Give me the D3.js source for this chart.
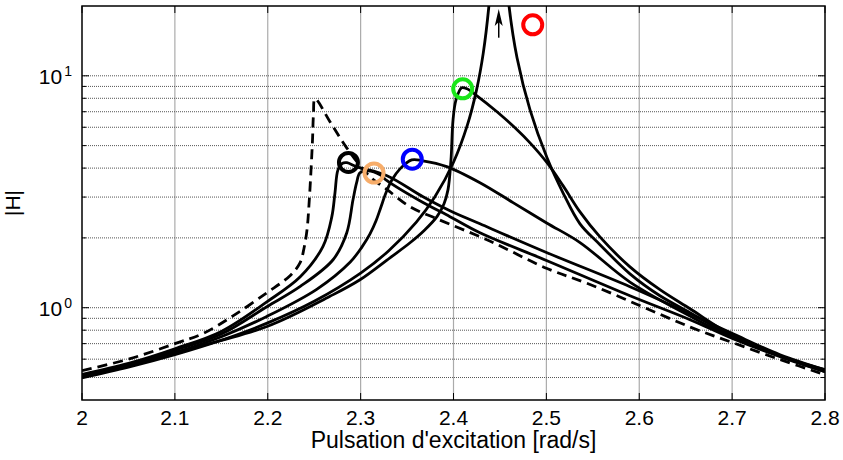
<!DOCTYPE html>
<html>
<head>
<meta charset="utf-8">
<script src="https://cdn.jsdelivr.net/npm/d3@7"></script>
<style>
  body { margin: 0; background: #fff; }
  svg text { font-family: "Liberation Sans", Arial, sans-serif; fill: #000; }
</style>
</head>
<body>
<div id="grafica"></div>
<script>
// ticks
var xTicks = [2, 2.1, 2.2, 2.3, 2.4, 2.5, 2.6, 2.7, 2.8];
var yMajor = [1, 10];
var yMinor = [0.5, 0.6, 0.7, 0.8, 0.9, 2, 3, 4, 5, 6, 7, 8, 9];

// dashed curve
var dashW = [2.0, 2.052, 2.1, 2.13, 2.163, 2.199, 2.224, 2.2347, 2.239, 2.2423, 2.2444, 2.2466, 2.2482, 2.2492, 2.2509, 2.267, 2.285, 2.31, 2.326, 2.353, 2.382, 2.439, 2.5, 2.547, 2.601, 2.655, 2.701, 2.752, 2.8];
var dashH = [0.535, 0.603, 0.70, 0.773, 0.924, 1.16, 1.374, 1.56, 1.80, 2.17, 2.78, 3.93, 5.3, 6.79, 7.96, 6.34, 4.89, 3.67, 3.29, 2.73, 2.42, 1.94, 1.48, 1.26, 1.02, 0.825, 0.706, 0.597, 0.514];

// black circle curve
var blackW = [2.0, 2.05, 2.1, 2.15, 2.199, 2.235, 2.2595, 2.269, 2.2724, 2.2756, 2.2805, 2.2853, 2.2961, 2.3284, 2.3672, 2.3962, 2.4285, 2.5007, 2.59, 2.6546, 2.701, 2.7516, 2.8];
var blackH = [0.515, 0.575, 0.665, 0.79, 1.06, 1.36, 1.84, 2.47, 3.13, 3.93, 4.2, 4.22, 4.05, 3.71, 3.01, 2.62, 2.30, 1.726, 1.232, 0.942, 0.772, 0.627, 0.54];

// orange circle curve
var orangeW = [2.0, 2.05, 2.1, 2.15, 2.199, 2.235, 2.2703, 2.285, 2.2918, 2.2957, 2.2993, 2.308, 2.321, 2.3284, 2.3672, 2.3962, 2.4285, 2.5007, 2.59, 2.6546, 2.701, 2.7516, 2.8];
var orangeH = [0.51, 0.57, 0.655, 0.77, 1.01, 1.235, 1.61, 2.10, 2.92, 3.46, 3.82, 3.89, 3.74, 3.53, 2.84, 2.47, 2.105, 1.595, 1.126, 0.888, 0.735, 0.615, 0.53];

// blue circle curve
var blueW = [2.0, 2.05, 2.1, 2.15, 2.199, 2.2527, 2.2886, 2.3015, 2.3101, 2.3166, 2.3219, 2.3273, 2.3338, 2.3424, 2.355, 2.367, 2.3927, 2.4285, 2.4641, 2.5003, 2.5362, 2.59, 2.6546, 2.701, 2.7516, 2.8];
var blueH = [0.505, 0.56, 0.64, 0.75, 0.917, 1.2, 1.57, 1.83, 2.08, 2.37, 2.72, 3.13, 3.56, 3.97, 4.34, 4.3, 4.06, 3.46, 2.84, 2.32, 1.91, 1.29, 0.92, 0.74, 0.62, 0.53];

// green circle curve
var greenW = [2.0, 2.1001, 2.1992, 2.267, 2.2993, 2.3316, 2.3532, 2.3693, 2.3822, 2.3898, 2.3941, 2.3973, 2.3995, 2.4027, 2.4088, 2.4145, 2.4253, 2.4468, 2.4662, 2.4824, 2.5007, 2.5179, 2.5362, 2.5577, 2.59, 2.6223, 2.6546, 2.701, 2.7516, 2.8];
var greenH = [0.502, 0.64, 0.83, 1.12, 1.32, 1.642, 1.906, 2.17, 2.47, 2.81, 3.23, 4.34, 6.46, 7.88, 8.88, 8.79, 8.2, 7.0, 5.97, 5.14, 4.22, 3.36, 2.59, 2.02, 1.50, 1.196, 0.99, 0.757, 0.621, 0.535];

// red circle curve (goes off the top)
var redW = [2.0, 2.05, 2.1, 2.15, 2.2, 2.25, 2.3, 2.33, 2.36, 2.38, 2.4, 2.415, 2.425, 2.432, 2.438, 2.442, 2.449, 2.455, 2.4598, 2.4684, 2.4824, 2.5007, 2.5179, 2.5362, 2.5577, 2.59, 2.6223, 2.6546, 2.701, 2.7516, 2.8];
var redH = [0.498, 0.554, 0.627, 0.724, 0.86, 1.066, 1.41, 1.757, 2.34, 3.01, 4.24, 6.14, 8.76, 12.5, 19.8, 32, 120, 34, 20, 11.96, 7.13, 4.43, 3.13, 2.30, 1.87, 1.40, 1.126, 0.952, 0.75, 0.621, 0.54];

// markers at the peaks
var markW = [2.2869, 2.3144, 2.3556, 2.4099, 2.4853];
var markH = [4.23, 3.81, 4.37, 8.79, 16.6];
var markColor = ["#000000", "#f7ad6a", "#0000ff", "#19e619", "#ff0000"];

// arrow
var arrowW = 2.4487;
var arrowH = [14.6, 19.4];

var margin = {top: 6, right: 18, bottom: 60, left: 82},
    width = 843 - margin.left - margin.right,
    height = 460 - margin.top - margin.bottom;

var svg = d3.select("#grafica")
  .append("svg")
    .attr("width", width + margin.left + margin.right)
    .attr("height", height + margin.top + margin.bottom)
  .append("g")
    .attr("transform", "translate(" + margin.left + "," + margin.top + ")");

var x = d3.scaleLinear().domain([2, 2.8]).range([0, width]);
var y = d3.scaleLog().domain([0.4, 20]).range([height, 0]);

// vertical grid
svg.append("g")
  .selectAll("line")
  .data(xTicks.slice(1, -1))
  .enter().append("line")
    .attr("x1", function(d) { return x(d); })
    .attr("x2", function(d) { return x(d); })
    .attr("y1", 0)
    .attr("y2", height)
    .attr("stroke", "#ababab")
    .attr("stroke-width", 1.2);

// horizontal dotted grid
svg.append("g")
  .selectAll("line")
  .data(yMajor.concat(yMinor))
  .enter().append("line")
    .attr("x1", 0)
    .attr("x2", width)
    .attr("y1", function(d) { return y(d); })
    .attr("y2", function(d) { return y(d); })
    .attr("stroke", "#555")
    .attr("stroke-width", 1)
    .attr("stroke-dasharray", "1,1");

// ticks on the four sides, pointing in
var ticks = svg.append("g").attr("stroke", "#000").attr("stroke-width", 1);
xTicks.forEach(function(d) {
  ticks.append("line").attr("x1", x(d)).attr("x2", x(d)).attr("y1", height).attr("y2", height - 7);
  ticks.append("line").attr("x1", x(d)).attr("x2", x(d)).attr("y1", 0).attr("y2", 7);
});
yMajor.forEach(function(d) {
  ticks.append("line").attr("x1", 0).attr("x2", 7).attr("y1", y(d)).attr("y2", y(d));
  ticks.append("line").attr("x1", width).attr("x2", width - 7).attr("y1", y(d)).attr("y2", y(d));
});
yMinor.forEach(function(d) {
  ticks.append("line").attr("x1", 0).attr("x2", 4).attr("y1", y(d)).attr("y2", y(d));
  ticks.append("line").attr("x1", width).attr("x2", width - 4).attr("y1", y(d)).attr("y2", y(d));
});

// x tick labels
svg.append("g")
  .selectAll("text")
  .data(xTicks)
  .enter().append("text")
    .attr("x", function(d) { return x(d); })
    .attr("y", height + 25)
    .attr("text-anchor", "middle")
    .style("font-size", "21px")
    .text(function(d) { return d3.format(".1~f")(d); });

// y tick labels 10^0, 10^1
var yl = svg.append("g")
  .selectAll("text")
  .data(yMajor)
  .enter().append("text")
    .attr("x", -10)
    .attr("y", function(d) { return y(d) + 8; })
    .attr("text-anchor", "end")
    .style("font-size", "21px");
yl.append("tspan").text("10");
yl.append("tspan")
  .attr("dy", -8)
  .attr("dx", 2)
  .style("font-size", "14px")
  .text(function(d) { return Math.round(Math.log10(d)); });

// clip
svg.append("defs").append("clipPath")
    .attr("id", "clip")
  .append("rect")
    .attr("width", width)
    .attr("height", height);

var plot = svg.append("g").attr("clip-path", "url(#clip)");

var lineFunction = d3.line()
  .x(function(d) { return x(d[0]); })
  .y(function(d) { return y(d[1]); })
  .curve(d3.curveCatmullRom.alpha(0.5));

function zip(w, h) { return w.map(function(v, i) { return [v, h[i]]; }); }

var curves = [
  {w: redW, h: redH, dash: null},
  {w: greenW, h: greenH, dash: null},
  {w: blueW, h: blueH, dash: null},
  {w: orangeW, h: orangeH, dash: null},
  {w: blackW, h: blackH, dash: null},
  {w: dashW, h: dashH, dash: "10,6"}
];

curves.forEach(function(c) {
  plot.append("path")
    .datum(zip(c.w, c.h))
    .attr("fill", "none")
    .attr("stroke", "#000")
    .attr("stroke-width", 2.8)
    .attr("stroke-linejoin", "round")
    .attr("stroke-dasharray", c.dash)
    .attr("d", lineFunction);
});

// arrow
plot.append("line")
  .attr("x1", x(arrowW)).attr("x2", x(arrowW))
  .attr("y1", y(arrowH[0])).attr("y2", y(arrowH[1]) + 10)
  .attr("stroke", "#000").attr("stroke-width", 1.5);
plot.append("path")
  .attr("d", "M" + x(arrowW) + "," + y(arrowH[1]) +
             "L" + (x(arrowW) - 4) + "," + (y(arrowH[1]) + 17) +
             "L" + x(arrowW) + "," + (y(arrowH[1]) + 13) +
             "L" + (x(arrowW) + 4) + "," + (y(arrowH[1]) + 17) + "Z")
  .attr("fill", "#000");

// peak markers
svg.append("g")
  .selectAll("circle")
  .data(markW)
  .enter().append("circle")
    .attr("cx", function(d) { return x(d); })
    .attr("cy", function(d, i) { return y(markH[i]); })
    .attr("r", 9.5)
    .attr("fill", "none")
    .attr("stroke", function(d, i) { return markColor[i]; })
    .attr("stroke-width", 4);

// box
svg.append("rect")
  .attr("width", width)
  .attr("height", height)
  .attr("fill", "none")
  .attr("stroke", "#000")
  .attr("stroke-width", 1.5);

// axis labels
svg.append("text")
  .attr("x", width / 2)
  .attr("y", height + 48)
  .attr("text-anchor", "middle")
  .style("font-size", "23px")
  .text("Pulsation d'excitation [rad/s]");

svg.append("text")
  .attr("transform", "translate(" + (-62) + "," + (height / 2) + ") rotate(-90)")
  .attr("text-anchor", "middle")
  .style("font-size", "21px")
  .text("|H|");
</script>
</body>
</html>
